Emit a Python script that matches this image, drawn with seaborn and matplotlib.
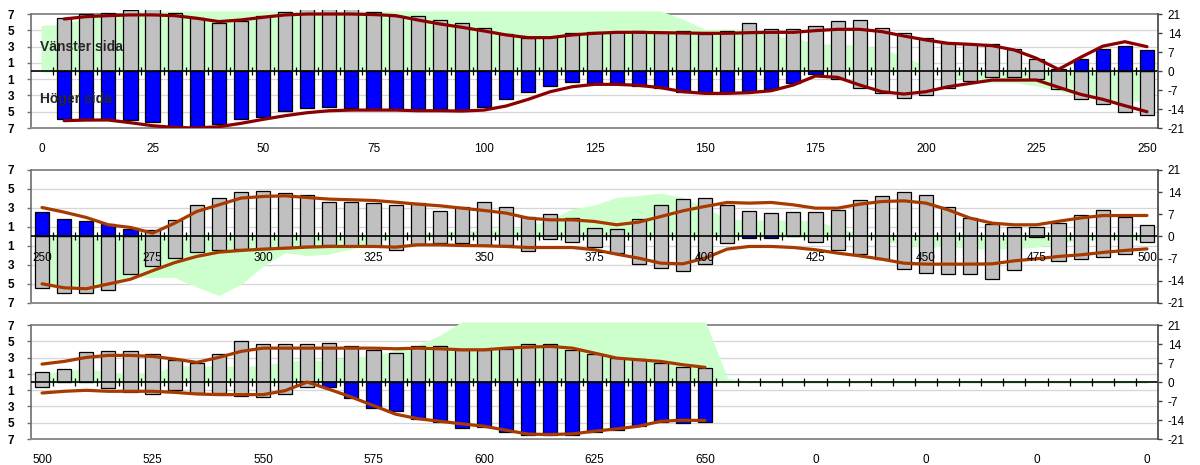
import numpy as np
import matplotlib
matplotlib.use("Agg")
import matplotlib.pyplot as plt
import seaborn as sns

# ------------------------------------------------------------------ data
# Panel 1 (0 - 250)
p1_bar_cats = np.arange(5, 255, 5)
p1_grey_top = [6.56, 7.0, 7.17, 7.45, 7.9, 7.17, 6.5, 5.94, 6.15, 6.8, 7.22, 7.8, 7.9, 7.8, 7.2, 6.78,
               6.8, 6.27, 5.94, 5.25, 4.5, 4.0, 4.22, 4.63, 4.75, 4.75, 4.96, 4.75, 4.96, 4.55, 4.96, 5.94, 5.12, 5.16,
               5.57, 6.15, 6.27, 5.25, 4.63, 4.1, 3.48, 3.28, 3.28, 2.66, 1.43, 0.2, 0, 0, 0, 0]
p1_grey_bot = [0, 0, 0, 0, 0, 0, 0, 0, 0, 0, 0, 0, 0, 0, 0, 0, 0, 0, 0, 0, 0, 0, 0, 0, 0, 0, 0, 0, 0, 0,
               0, 0, 0, 0, 0,
               -0.98, -2.13, -2.75, -3.36, -2.95, -2.1, -1.23, -0.78, -0.78, -0.98, -2.2, -3.44, -4.1, -5.0, -5.41]
p1_blue = [-5.9, -6.0, -5.9, -6.0, -6.3, -6.9, -6.9, -6.56, -5.9, -5.7, -4.92, -4.6, -4.4, -4.5, -4.67, -4.67,
           -4.67, -4.67, -4.8, -4.39, -3.48, -2.62, -1.8, -1.39, -1.52, -1.52, -1.8, -2.13, -2.54, -2.62, -2.54,
           -2.42, -2.25, -1.52, -0.37,
           0, 0, 0, 0, 0, 0, 0, 0, 0, 0, 0,
           1.43, 2.66, 3.11, 2.58]
p1_upper = [6.39, 6.68, 6.8, 6.89, 6.89, 6.8, 6.48, 6.07, 6.27, 6.6, 6.89, 7.0, 7.0, 7.0, 6.93, 6.8,
            6.27, 5.78, 5.37, 4.92, 4.43, 4.1, 4.1, 4.43, 4.63, 4.75, 4.75, 4.71, 4.67, 4.63, 4.63, 4.71, 4.75, 4.75,
            4.96, 5.12, 5.12, 4.84, 4.3, 3.81, 3.4, 3.28, 3.11, 2.58, 1.56, 0.2, 1.68, 3.05, 3.6, 2.99]
p1_lower = [-6.1, -6.02, -6.02, -6.35, -6.72, -6.93, -7.0, -6.84, -6.43, -5.94, -5.49, -5.12, -4.88, -4.8, -4.8, -4.8,
            -4.88, -4.88, -4.92, -4.8, -4.3, -3.48, -2.54, -1.93, -1.64, -1.64, -1.76, -2.05, -2.54, -2.75, -2.75,
            -2.66, -2.42, -1.72,
            -0.61, -0.78, -1.72, -2.54, -2.83, -2.54, -1.93, -1.52, -1.11, -1.11, -1.11, -2.0, -2.87, -3.48, -4.26, -5.0]
p1_green_cats = np.arange(0, 255, 5)
p1_green = [5.5, 5.6, 6.4, 6.6,
            7.25, 7.25, 7.25, 7.25, 7.25, 7.25, 7.25, 7.25, 7.25, 7.25, 7.25, 7.25, 7.25, 7.25, 7.25, 7.25,
            7.25, 7.25, 7.25, 7.25, 7.25, 7.25, 7.25, 7.25, 7.25,
            6.2, 5.0, 5.0, 5.0, 4.1, 4.0, 3.2, 3.2, 3.0, 2.66, 1.56, 0.53, -0.5, -1.1, -1.3, -1.3, -1.7, -2.3,
            -2.95, -3.56, -3.56, -3.6]
p1_xticklabels = ["0", "25", "50", "75", "100", "125", "150", "175", "200", "225", "250"]

# Panel 2 (250 - 500)
p2_bar_cats = np.arange(250, 505, 5)
p2_grey_top = [0, 0, 0, 0, 0, 0.7, 1.75, 3.33, 4.04, 4.63, 4.74, 4.56, 4.32, 3.68, 3.68, 3.51, 3.33,
               3.51, 2.63, 3.09, 3.61, 3.05, 2.1, 2.35, 1.93, 0.88, 0.81, 1.82, 3.33, 3.93, 4.04, 3.33, 2.63, 2.42, 2.53,
               2.53, 2.81, 3.79, 4.21, 4.63, 4.32, 3.09, 1.94, 1.3, 1.05, 0.95, 1.47, 2.28, 2.81, 2.1, 1.23]
p2_grey_bot = [-5.44, -5.96, -5.96, -5.61, -3.96, -3.09, -2.28, -1.68, -1.47, -1.3, -1.3, -1.16, -0.98, -0.88,
               -1.05, -1.05, -1.4,
               -0.8, -0.7, -0.7, -0.88, -0.88, -1.58, -0.28, -0.6, -1.12, -1.75, -2.88, -3.33, -3.68, -2.88, -0.7,
               0, 0, 0,
               -0.6, -1.4, -1.82, -2.4, -3.4, -3.86, -3.96, -3.96, -4.45, -3.5, -0.1, -2.63, -2.39, -2.18, -1.86, -0.6]
p2_blue = [2.53, 1.82, 1.65, 1.3, 0.81,
           0, 0, 0, 0, 0, 0, 0, 0, 0, 0, 0, 0, 0, 0, 0, 0, 0, 0, 0, 0, 0, 0, 0, 0, 0, 0, 0,
           -0.15, -0.2,
           0, 0, 0, 0, 0, 0, 0, 0, 0, 0, 0, 0, 0, 0, 0, 0, 0]
p2_upper = [3.05, 2.56, 2.0, 1.23, 0.95, 0.35, 1.4, 2.63, 3.33, 4.04, 4.21, 4.28, 4.1, 3.93, 3.86, 3.79, 3.61,
            3.4, 3.23, 2.98, 2.74, 2.46, 1.93, 1.75, 1.75, 1.58, 1.23, 1.51, 2.1, 2.7, 3.16, 3.58, 3.51, 3.58, 3.33,
            2.98, 2.98, 3.4, 3.68, 3.75, 3.51, 2.81, 1.93, 1.4, 1.23, 1.23, 1.6, 1.95, 2.2, 2.21, 2.21]
p2_lower = [-4.98, -5.4, -5.5, -5.0, -4.5, -3.6, -2.75, -2.1, -1.65, -1.47, -1.33, -1.23, -1.12, -1.05, -1.05,
            -1.05, -1.12,
            -0.88, -0.88, -0.95, -0.98, -1.05, -1.16, -1.16, -1.16, -1.4, -1.86, -2.28, -2.81, -2.88, -2.28, -1.33,
            -1.05, -1.05, -1.16,
            -1.4, -1.75, -2.04, -2.39, -2.81, -2.91, -2.91, -2.91, -2.88, -2.56, -2.35, -2.1, -1.93, -1.68, -1.47, -1.3]
p2_green_cats = np.arange(250, 505, 5)
p2_green = [-5.0, -5.2, -5.2, -5.0, -4.1, -4.2, -4.2, -5.2, -6.1, -4.9, -3.0, -1.6, -1.9, -1.75, -1.2, -0.5, 0.0,
            0.2, 0.4, 0.5, 0.5, 0.7, 0.9, 1.7, 2.8, 3.2, 4.0, 4.2, 4.45, 4.0, 2.9, 1.75, 1.6, 1.6, 1.6,
            1.6, 0.8, 0.2, -0.3, -0.8, -1.0, -0.9, -1.2, -1.2, -1.2, -1.0, -0.6, -0.3, -0.2, -0.2, -0.3]
p2_xticklabels = ["250", "275", "300", "325", "350", "375", "400", "425", "450", "475", "500"]

# Panel 3 (500 - 750)
p3_bar_cats = np.arange(500, 655, 5)
p3_grey_top = [1.22, 1.59, 3.67, 3.76, 3.76, 3.43, 2.65, 2.33, 3.43, 5.06, 4.69, 4.61, 4.61, 4.78, 4.37, 3.88, 3.55,
               4.37, 4.37, 3.88, 3.88, 4.08, 4.69, 4.69, 3.88, 3.47, 2.94, 2.82, 2.33, 1.84, 1.71]
p3_grey_bot = [-0.61, 0, 0, -0.73, -1.22, -1.47, -0.94, -1.35, -1.35, -1.76, -1.84, -1.47, -0.65,
               0, 0, 0, 0, 0, 0, 0, 0, 0, 0, 0, 0, 0, 0, 0, 0, 0, 0]
p3_blue = [0, 0, 0, 0, 0, 0, 0, 0, 0, 0, 0, 0, 0,
           -0.61, -1.96, -3.18, -3.59, -4.53, -4.94, -5.63, -5.55, -6.16, -6.45, -6.45, -6.45, -6.16, -5.84,
           -5.43, -4.9, -5.02, -4.9]
p3_upper = [2.2, 2.53, 3.02, 3.27, 3.27, 3.14, 2.82, 2.41, 3.02, 3.76, 4.16, 4.16, 4.16, 4.16, 4.16, 4.16, 4.08,
            4.16, 4.08, 3.96, 3.96, 4.16, 4.29, 4.37, 4.16, 3.55, 2.94, 2.73, 2.53, 2.12, 1.8]
p3_lower = [-1.35, -1.14, -1.02, -1.14, -1.14, -1.14, -1.27, -1.47, -1.55, -1.55, -1.55, -1.06, 0.0, -0.9, -1.85,
            -2.9, -3.95,
            -4.5, -4.82, -5.14, -5.43, -5.92, -6.4, -6.45, -6.37, -6.04, -5.76, -5.43, -4.82, -4.69, -4.73]
p3_green_cats = np.arange(500, 755, 5)
p3_green = [0.9, 1.2, 1.6, 1.0, 1.0, 1.0, 1.8, 1.9, 1.8, 1.8, 1.9, 2.4, 2.6, 2.5, 3.0, 3.0, 3.8, 4.4, 5.6, 7.25,
            7.25, 7.25, 7.25, 7.25, 7.25, 7.25, 7.25, 7.25, 7.25, 7.25, 7.25,
            0.3,
            0, 0, 0, 0, 0, 0, 0, 0, 0, 0, 0, 0, 0, 0, 0, 0, 0, 0, 0]
p3_xticklabels = ["500", "525", "550", "575", "600", "625", "650", "0", "0", "0", "0"]

left_ticks = [-7, -5, -3, -1, 1, 3, 5, 7]
left_ticklabels = ["7", "5", "3", "1", "1", "3", "5", "7"]
right_ticks = [-21, -14, -7, 0, 7, 14, 21]
right_ticklabels = ["-21", "-14", "-7", "0", "7", "14", "21"]
grid_values = [-5, -3, -1, 1, 3, 5]

# ------------------------------------------------------------------ style
sns.set_theme(style="white")
plt.rcParams["font.family"] = ["Liberation Sans", "DejaVu Sans"]

GREY = "#C0C0C0"
BLUE = "#0000FF"
GREEN = "#CCFFCC"
FRAME = "#8C8C8C"
YMIN, YMAX = -7.0, 7.45
BAR_W = 3.2
FS = 8.5

fig = plt.figure(figsize=(12, 4.65), dpi=100)


def draw_panel(rect, start, bar_cats, gtop, gbot, blue, upper, lower, gcats, green,
               line_color, xlabels, labels_at_zero):
    ax = fig.add_axes(rect)
    ax.set_xlim(start - 2.5, start + 252.5)
    ax.set_ylim(YMIN, YMAX)
    ax.grid(False)

    for g in grid_values:
        ax.axhline(g, color="#D6D6D6", lw=0.9, zorder=0.5)
    ax.axhline(7, color=FRAME, lw=1.4, zorder=0.6)

    ax.fill_between(gcats, 0, green, color=GREEN, edgecolor=GREEN, lw=1.5, zorder=1)

    gtop = np.asarray(gtop, float)
    gbot = np.asarray(gbot, float)
    blue = np.asarray(blue, float)
    m = (gtop - gbot) != 0
    ax.bar(bar_cats[m], (gtop - gbot)[m], bottom=gbot[m], width=BAR_W, color=GREY,
           edgecolor="black", linewidth=0.9, zorder=2)
    mb = blue != 0
    ax.bar(bar_cats[mb], blue[mb], width=BAR_W, color=BLUE,
           edgecolor="black", linewidth=0.9, zorder=2.5)

    ax.axhline(0, color="black", lw=1.2, zorder=3)
    bounds = gcats[:-1] + 2.5
    ax.plot(bounds, np.zeros(len(bounds)), ls="none", marker="|", ms=5.5, mew=0.9,
            color="black", zorder=3)

    sns.lineplot(x=bar_cats, y=upper, ax=ax, color=line_color, linewidth=2.3, zorder=4)
    sns.lineplot(x=bar_cats, y=lower, ax=ax, color=line_color, linewidth=2.3, zorder=4)
    ax.set_xlabel("")
    ax.set_ylabel("")

    # spines
    ax.spines["top"].set_visible(False)
    ax.spines["right"].set_visible(False)
    ax.spines["bottom"].set_color(FRAME)
    ax.spines["bottom"].set_linewidth(1.4)
    ax.spines["left"].set_color("#6E6E6E")
    ax.spines["left"].set_linewidth(1.2)
    ax.spines["left"].set_bounds(-7, 7)

    ax.set_yticks(left_ticks)
    ax.set_yticklabels(left_ticklabels, fontsize=FS, fontweight="bold", color="black")
    ax.tick_params(axis="y", direction="out", length=3, width=1.0, colors="#6E6E6E",
                   labelcolor="black", pad=9, left=True)

    xpos = np.arange(start, start + 251, 25)
    if labels_at_zero:
        ax.set_xticks([])
        sec = ax.secondary_xaxis((0 - YMIN) / (YMAX - YMIN))
        sec.set_alignment("bottom")
        sec.set_xticks(xpos)
        sec.set_xticklabels(xlabels, fontsize=FS, color="black")
        sec.tick_params(axis="x", length=0, pad=11)
        for s in sec.spines.values():
            s.set_visible(False)
        sec.set_zorder(10)
    else:
        ax.set_xticks(xpos)
        ax.set_xticklabels(xlabels, fontsize=FS, color="black")
        ax.tick_params(axis="x", length=0, pad=11)

    axr = ax.twinx()
    axr.set_ylim(YMIN * 3, YMAX * 3)
    axr.grid(False)
    for k in ("top", "left", "bottom"):
        axr.spines[k].set_visible(False)
    axr.spines["right"].set_color("#404040")
    axr.spines["right"].set_linewidth(1.2)
    axr.spines["right"].set_bounds(-21, 21)
    axr.set_yticks(right_ticks)
    axr.set_yticklabels(right_ticklabels, fontsize=FS, color="black")
    axr.tick_params(axis="y", direction="out", length=3, width=1.0, colors="#404040",
                    labelcolor="black", pad=4, right=True)
    return ax


ax1 = draw_panel([0.02583, 0.72473, 0.93917, 0.2530], 0, p1_bar_cats, p1_grey_top, p1_grey_bot, p1_blue,
                 p1_upper, p1_lower, p1_green_cats, p1_green, "#8B0000", p1_xticklabels, False)
ax2 = draw_panel([0.02583, 0.34839, 0.93917, 0.2953], 250, p2_bar_cats, p2_grey_top, p2_grey_bot, p2_blue,
                 p2_upper, p2_lower, p2_green_cats, p2_green, "#A63A00", p2_xticklabels, True)
ax3 = draw_panel([0.02583, 0.05591, 0.93917, 0.2530], 500, p3_bar_cats, p3_grey_top, p3_grey_bot, p3_blue,
                 p3_upper, p3_lower, p3_green_cats, p3_green, "#A63A00", p3_xticklabels, False)

ax1.text(-0.5, 2.95, "Vänster sida", fontsize=10, fontweight="bold", ha="left", va="center", zorder=6)
ax1.text(-0.5, -3.38, "Höger sida", fontsize=10, fontweight="bold", ha="left", va="center", zorder=6)

fig.savefig("out.png", dpi=100)
